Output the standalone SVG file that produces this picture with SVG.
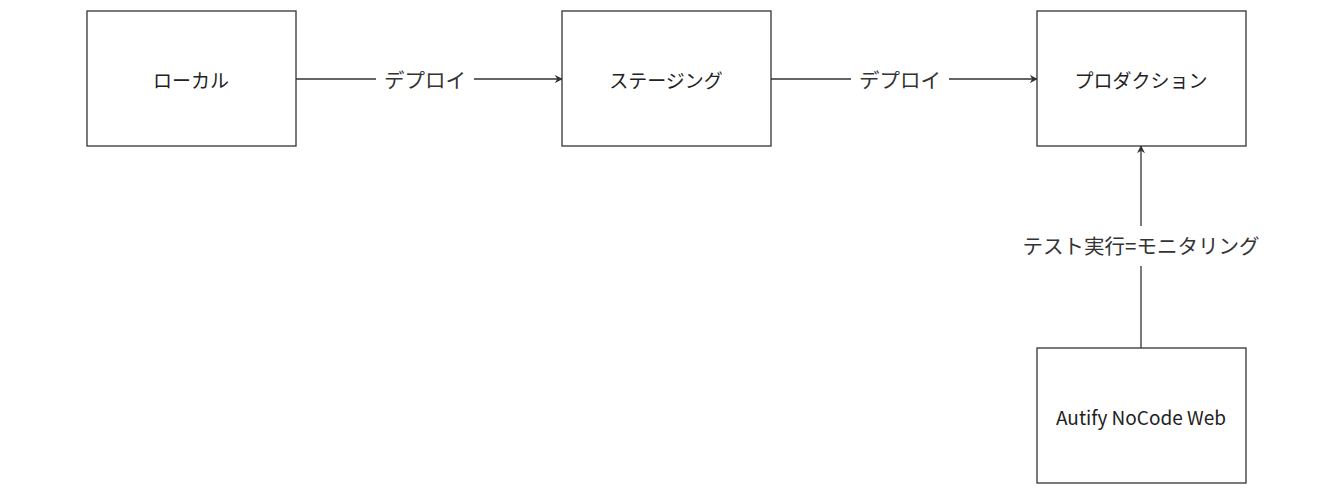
<svg xmlns="http://www.w3.org/2000/svg" width="1333" height="494" viewBox="0 0 1333 494">
<style>
.n{fill:#fff;stroke:#333;stroke-width:1.3}
.t{font-family:"Noto Sans CJK JP","Noto Sans",sans-serif;font-size:19px;fill:#222;text-anchor:middle;dominant-baseline:central}
.e{stroke:#333;stroke-width:1.3;fill:none;marker-end:url(#a)}
.l{font-family:"Noto Sans CJK JP","Noto Sans",sans-serif;font-size:20.5px;fill:#333;text-anchor:middle;dominant-baseline:central}
</style>
<defs><marker id="a" viewBox="0 0 10 10" refX="9" refY="5" markerWidth="8" markerHeight="8" markerUnits="userSpaceOnUse" orient="auto"><path d="M0,0L10,5L0,10L3,5Z" fill="#333"/></marker></defs>
<rect width="1333" height="494" fill="#fff"/>
<g id="edges">
<path class="e" d="M296 79H376M474 79H562"/>
<text class="l" x="425" y="79">デプロイ</text>
<path class="e" d="M771 79H851M949 79H1037"/>
<text class="l" x="900" y="79">デプロイ</text>
<path class="e" d="M1141 348V266M1141 226V146"/>
<text class="l" x="1141" y="245">テスト実行=モニタリング</text>
</g>
<g id="local"><rect class="n" x="87" y="11" width="209" height="135"/><text class="t" x="191" y="79">ローカル</text></g>
<g id="staging"><rect class="n" x="562" y="11" width="209" height="135"/><text class="t" x="666" y="79">ステージング</text></g>
<g id="production"><rect class="n" x="1037" y="11" width="209" height="135"/><text class="t" x="1141" y="79">プロダクション</text></g>
<g id="autify"><rect class="n" x="1037" y="348" width="209" height="135"/><text class="t" x="1141" y="416">Autify NoCode Web</text></g>
</svg>
